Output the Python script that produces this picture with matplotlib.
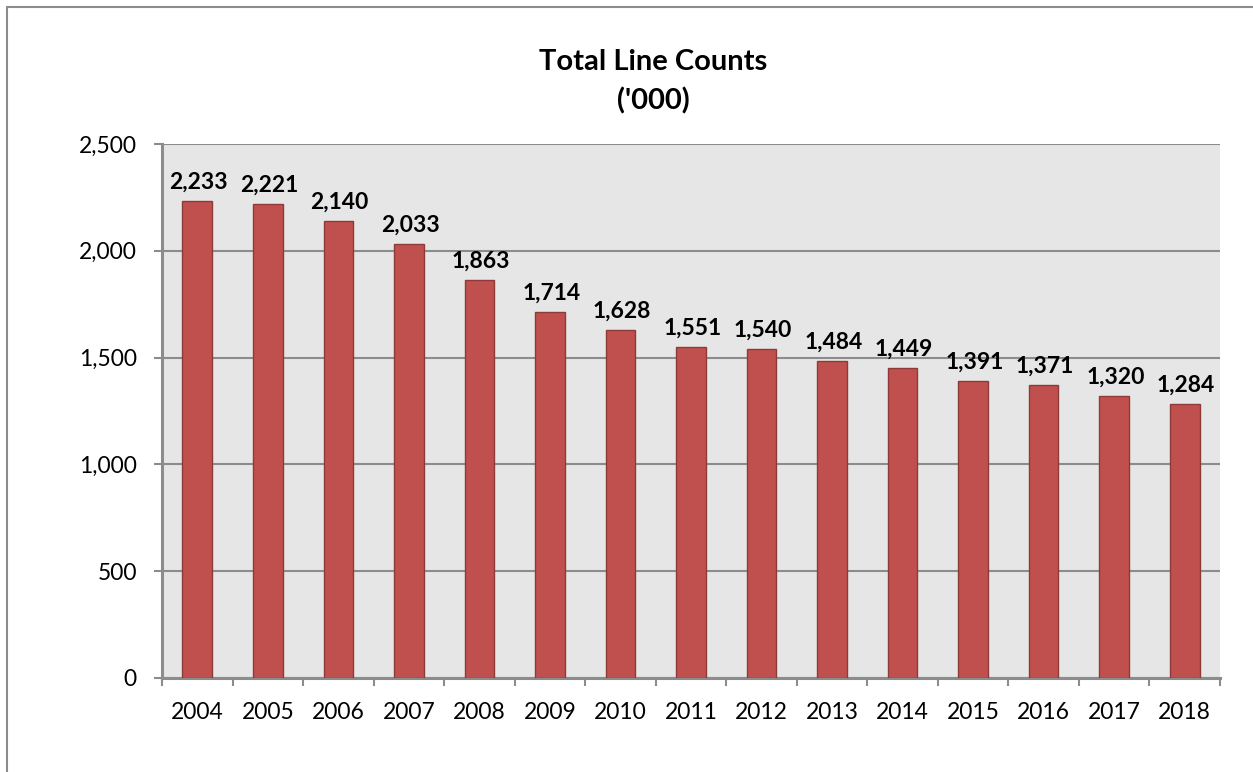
import matplotlib.pyplot as plt
from matplotlib.patches import Rectangle
from matplotlib.ticker import FuncFormatter, FixedLocator

years = ["2004", "2005", "2006", "2007", "2008", "2009", "2010", "2011",
         "2012", "2013", "2014", "2015", "2016", "2017", "2018"]
lines_000 = [2233, 2221, 2140, 2033, 1863, 1714, 1628, 1551,
             1540, 1484, 1449, 1391, 1371, 1320, 1284]
y_ticks = [0, 500, 1000, 1500, 2000, 2500]

plt.rcParams['font.family'] = ['Lato', 'DejaVu Sans']

fig = plt.figure(figsize=(12.53, 7.72), dpi=100)
ax = fig.add_axes([162 / 1253, 1 - 678 / 772, (1220 - 162) / 1253, (678 - 144) / 772])

# chart frame (runs off the right and bottom edges)
fig.patches.append(Rectangle((7 / 1253, -0.2), 2.0, 1 - 7 / 772 + 0.2,
                             transform=fig.transFigure, fill=False,
                             edgecolor="#8c8c8c", linewidth=1.5))

x = list(range(len(years)))
ax.set_facecolor("#e6e6e6")
ax.bar(x, lines_000, width=0.42, color="#c0504d", edgecolor="#8e3a38",
       linewidth=1.0, zorder=3)

for xi, v in zip(x, lines_000):
    ax.annotate(f"{v:,}", (xi, v), xytext=(1, 6), textcoords="offset points",
                ha="center", va="bottom", fontsize=16.5, fontweight="bold",
                zorder=4)

ax.set_xlim(-0.5, len(years) - 0.5)
ax.set_ylim(0, 2500)
ax.set_yticks(y_ticks)
ax.yaxis.set_major_formatter(FuncFormatter(lambda v, p: f"{int(v):,}"))
ax.grid(axis="y", color="#8c8c8c", linewidth=1.5, zorder=1)
ax.set_axisbelow(True)

ax.set_xticks(x)
ax.set_xticklabels(years)
ax.xaxis.set_minor_locator(FixedLocator([i - 0.5 for i in range(len(years) + 1)]))
ax.tick_params(axis="x", which="major", length=0, pad=17, labelsize=16.5)
ax.tick_params(axis="x", which="minor", length=6, width=1.5, color="#8c8c8c")
ax.tick_params(axis="y", length=6, width=1.5, color="#8c8c8c", pad=12, labelsize=16.5)

for side in ["top", "right"]:
    ax.spines[side].set_visible(False)
for side in ["left", "bottom"]:
    ax.spines[side].set_color("#8c8c8c")
    ax.spines[side].set_linewidth(2.2)

fig.text(653 / 1253, 1 - 62 / 772, "Total Line Counts", ha="center", va="center",
         fontsize=21, fontweight="bold")
fig.text(653 / 1253, 1 - 101 / 772, "('000)", ha="center", va="center",
         fontsize=21, fontweight="bold")

fig.savefig("out.png", dpi=100)
